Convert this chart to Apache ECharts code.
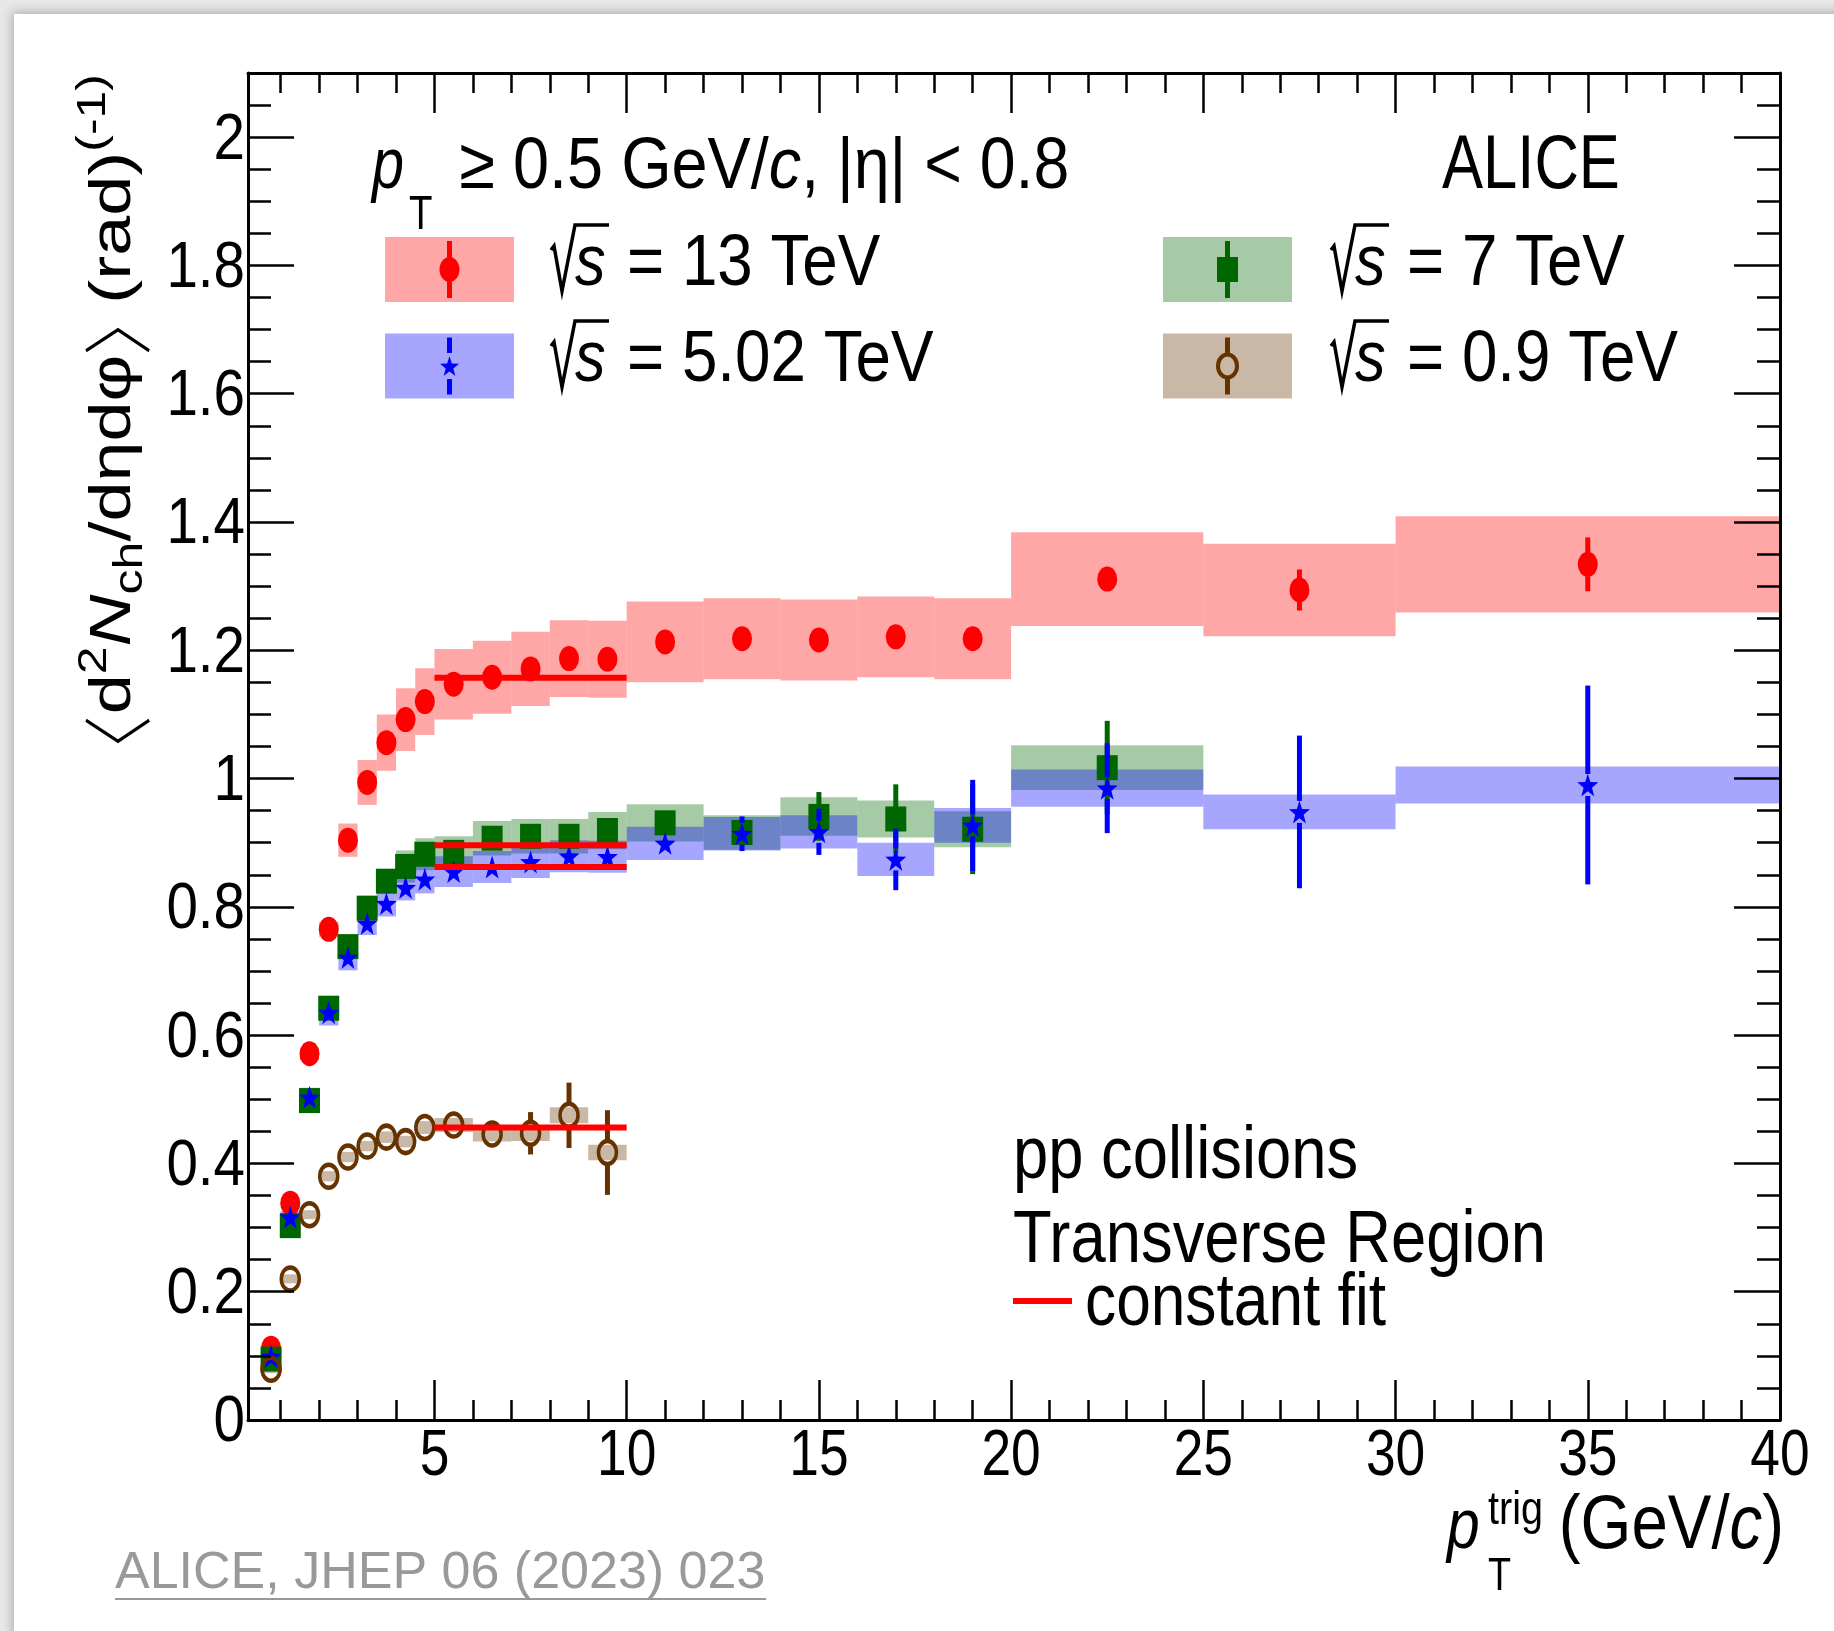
<!DOCTYPE html>
<html><head><meta charset="utf-8">
<script src="https://cdn.jsdelivr.net/npm/echarts@6/dist/echarts.min.js"></script>
<style>
html,body{margin:0;padding:0;width:1834px;height:1631px;overflow:hidden;background:#e8e8e8;}
#card{position:absolute;left:14px;top:14px;width:1860px;height:1660px;background:#fff;box-shadow:0 0 10px 2px rgba(0,0,0,0.25);}
#chart{position:absolute;left:0;top:0;width:1834px;height:1631px;}
</style></head><body>
<div id="card"></div><div id="chart"></div>
<script>
// ---------------- data ----------------
const binEdges = [0.5,1,1.5,2,2.5,3,3.5,4,4.5,5,6,7,8,9,10,12,14,16,18,20,25,30,40];

const val13  = [0.112,0.338,0.571,0.765,0.904,0.994,1.056,1.092,1.120,1.147,1.158,1.171,1.187,1.186,1.213,1.218,1.216,1.221,1.218,1.311,1.294,1.334];
const stat13 = [0.002,0.003,0.004,0.004,0.005,0.005,0.006,0.006,0.007,0.005,0.006,0.007,0.008,0.009,0.007,0.009,0.011,0.013,0.015,0.016,0.032,0.042];
const sys13  = [0.005,0.008,0.010,0.012,0.026,0.035,0.044,0.049,0.052,0.055,0.057,0.058,0.060,0.060,0.063,0.063,0.063,0.063,0.063,0.073,0.072,0.075];

const val7   = [0.095,0.303,0.498,0.642,0.738,0.798,0.840,0.863,0.882,0.885,0.907,0.910,0.910,0.919,0.931,0.916,0.941,0.937,0.921,1.017];
const stat7  = [0.002,0.003,0.003,0.004,0.004,0.005,0.005,0.005,0.006,0.005,0.006,0.007,0.008,0.009,0.012,0.020,0.038,0.054,0.070,0.073];
const sys7   = [0.004,0.006,0.008,0.010,0.012,0.014,0.015,0.025,0.025,0.025,0.027,0.027,0.027,0.029,0.029,0.027,0.030,0.029,0.028,0.035];

const val502  = [0.099,0.316,0.503,0.635,0.721,0.774,0.805,0.830,0.843,0.855,0.862,0.870,0.879,0.878,0.899,0.914,0.917,0.874,0.927,0.985,0.948,0.990];
const stat502 = [0.002,0.003,0.003,0.004,0.004,0.005,0.005,0.005,0.006,0.006,0.008,0.010,0.012,0.014,0.015,0.027,0.036,0.048,0.071,0.070,0.119,0.155];
const sys502  = [0.004,0.010,0.015,0.020,0.020,0.018,0.020,0.020,0.022,0.024,0.025,0.025,0.025,0.025,0.026,0.026,0.026,0.026,0.027,0.029,0.027,0.029];

const val09  = [0.079,0.220,0.320,0.380,0.410,0.427,0.441,0.434,0.456,0.460,0.446,0.447,0.475,0.417];
const stat09 = [0.002,0.003,0.004,0.005,0.006,0.006,0.007,0.008,0.009,0.012,0.018,0.033,0.051,0.066];
const sys09  = [0.006,0.007,0.007,0.008,0.008,0.008,0.009,0.009,0.010,0.011,0.012,0.012,0.0125,0.012];

const fitRange = [5, 10];
const fit13 = 1.157, fit7 = 0.896, fit502 = 0.862, fit09 = 0.456;

const xTickLabels = [5,10,15,20,25,30,35,40];
const yTickLabels = [0,0.2,0.4,0.6,0.8,1,1.2,1.4,1.6,1.8,2];
const legendLabels = ['13', '5.02', '7', '0.9'];

// ---------------- helpers ----------------
const xMinorTicks = []; for (let i = 1; i < 40; i++) if (i % 5) xMinorTicks.push(i);
const yMinorTicks = []; for (let i = 1; i < 42; i++) if (i % 4) yMinorTicks.push(+(i * 0.05).toFixed(2));
const centers = binEdges.slice(0, -1).map((e, i) => (e + binEdges[i + 1]) / 2);

const C = {
  red: '#ff0000', redB: 'rgba(255,0,0,0.35)',
  grn: '#006600', grnB: 'rgba(0,102,0,0.35)',
  blu: '#0000ff', bluB: 'rgba(0,0,255,0.35)',
  brn: '#663300', brnB: 'rgba(102,51,0,0.35)'
};
const FF = '"Liberation Sans", Arial, Helvetica, sans-serif';
const SQ = 0.8, MID = 0.3465;
const mctx = document.createElement('canvas').getContext('2d');
function fnt(s, it) { return (it ? 'italic ' : '') + s + 'px ' + FF; }
function tw(t, s, it) { mctx.font = fnt(s, it); return mctx.measureText(t).width; }
function textEl(x, base, t, s, o) {
  o = o || {};
  const al = o.align || 'left';
  return { type: 'text', x: x, y: base, scaleX: o.sx === undefined ? SQ : o.sx, silent: true, z: 100,
    style: { text: t, x: 0, y: -MID * s, fontSize: s, fontFamily: FF, fontStyle: o.it ? 'italic' : 'normal',
      fill: o.color || '#000', align: al, verticalAlign: 'middle', textAlign: al, textVerticalAlign: 'middle' } };
}
function chain(x0, base, pieces, sx) {
  let x = x0; const els = [];
  for (const p of pieces) {
    const s = p.sx !== undefined ? p.sx : (sx === undefined ? SQ : sx);
    x += (p.dx || 0);
    els.push(textEl(x, base + (p.dy || 0), p.t, p.s, { it: p.it, sx: s, color: p.color }));
    if (!p.noAdv) x += tw(p.t, p.s, p.it) * s;
  }
  return { els: els, end: x };
}
function starPts(cx, cy, w, h) {
  const pts = [];
  for (let k = 0; k < 10; k++) {
    const a = -Math.PI / 2 + k * Math.PI / 5, r = (k % 2) ? 0.4 : 1;
    pts.push([cx + Math.cos(a) * r * w / 2, cy + Math.sin(a) * r * h / 2 + h * 0.05]);
  }
  return pts;
}
const starPath = 'path://' + starPts(50, 50, 100, 100).map((p, i) => (i ? 'L' : 'M') + p[0].toFixed(2) + ' ' + p[1].toFixed(2)).join(' ') + ' Z';

function bandSeries(vals, sys, color, z) {
  return {
    type: 'custom', silent: true, z: z, animation: false,
    data: vals.map((v, i) => [binEdges[i], binEdges[i + 1], v, sys[i]]),
    encode: { x: [0, 1], y: [2] },
    renderItem: function (params, api) {
      const p1 = api.coord([api.value(0), api.value(2) + api.value(3)]);
      const p2 = api.coord([api.value(1), api.value(2) - api.value(3)]);
      return { type: 'rect', shape: { x: p1[0], y: p1[1], width: p2[0] - p1[0], height: p2[1] - p1[1] }, style: { fill: color } };
    }
  };
}
function errSeries(vals, stat, color, gap, z) {
  return {
    type: 'custom', silent: true, z: z, animation: false,
    data: vals.map((v, i) => [centers[i], v, stat[i]]),
    encode: { x: [0], y: [1] },
    renderItem: function (params, api) {
      const x = api.value(0), v = api.value(1), e = api.value(2);
      const c = api.coord([x, v]), t = api.coord([x, v + e]), b = api.coord([x, v - e]);
      const ch = [];
      if (c[1] - gap > t[1]) ch.push({ type: 'line', shape: { x1: c[0], y1: t[1], x2: c[0], y2: c[1] - gap }, style: { stroke: color, lineWidth: 5 } });
      if (b[1] > c[1] + gap) ch.push({ type: 'line', shape: { x1: c[0], y1: c[1] + gap, x2: c[0], y2: b[1] }, style: { stroke: color, lineWidth: 5 } });
      return { type: 'group', children: ch };
    }
  };
}
function markSeries(vals, symbol, size, style, z) {
  return { type: 'scatter', silent: true, z: z, animation: false, symbol: symbol, symbolSize: size,
    data: vals.map((v, i) => [centers[i], v]), itemStyle: Object.assign({ opacity: 1 }, style) };
}
function fitSeries(v) {
  return { type: 'line', silent: true, z: 15, animation: false, symbol: 'none',
    data: [[fitRange[0], v], [fitRange[1], v]], lineStyle: { color: C.red, width: 6, cap: 'butt' } };
}

// ---------------- axes ----------------
const tickStyle = { color: '#000', width: 2.5 };
function xAx(pos, major, withLine) {
  return { type: 'value', min: 0.15, max: 40, position: pos, z: 30, silent: true,
    splitLine: { show: false },
    axisLine: { show: withLine, onZero: false, lineStyle: { color: '#000', width: 3 } },
    axisTick: { show: true, inside: true, length: major ? 40 : 20, customValues: major ? xTickLabels : xMinorTicks, lineStyle: tickStyle },
    axisLabel: { show: false } };
}
function yAx(pos, major, withLine) {
  return { type: 'value', min: 0, max: 2.1, position: pos, z: 30, silent: true,
    splitLine: { show: false },
    axisLine: { show: withLine, onZero: false, lineStyle: { color: '#000', width: 3 } },
    axisTick: { show: true, inside: true, length: major ? 46 : 23, customValues: major ? yTickLabels : yMinorTicks, lineStyle: tickStyle },
    axisLabel: { show: false } };
}

// ---------------- texts ----------------
const G = [];
function add(list) { list.forEach(e => G.push(e)); }

// header
add(chain(372, 193, [
  { t: 'p', s: 72, it: true, sx: 0.8 },
  { t: 'T', s: 48, dy: 39, dx: 5, sx: 0.8 },
  { t: ' \u2265 0.5 GeV/', s: 72, dx: 9, sx: 0.9 },
  { t: 'c', s: 72, it: true, sx: 0.9 },
  { t: ', |\u03B7| < 0.8', s: 72, sx: 0.895 }
]).els);
G.push(textEl(1442, 193, 'ALICE', 76, { sx: 0.81 }));

// legend
function legendEntry(boxX, rowC, textX0, base, label, kind) {
  const mx = boxX + 64.5;
  const fills = { red: C.redB, blu: C.bluB, grn: C.grnB, brn: C.brnB };
  G.push({ type: 'rect', silent: true, z: 90, shape: { x: boxX, y: rowC - 32.5, width: 129, height: 65 }, style: { fill: fills[kind] } });
  const col = C[kind];
  const gap = (kind === 'blu' || kind === 'brn') ? 13 : 0;
  G.push({ type: 'line', silent: true, z: 91, shape: { x1: mx, y1: rowC - 28.5, x2: mx, y2: rowC - gap }, style: { stroke: col, lineWidth: 5 } });
  G.push({ type: 'line', silent: true, z: 91, shape: { x1: mx, y1: rowC + gap, x2: mx, y2: rowC + 28.5 }, style: { stroke: col, lineWidth: 5 } });
  if (kind === 'red') G.push({ type: 'ellipse', silent: true, z: 92, shape: { cx: mx, cy: rowC, rx: 10, ry: 12.5 }, style: { fill: col } });
  if (kind === 'grn') G.push({ type: 'rect', silent: true, z: 92, shape: { x: mx - 10.5, y: rowC - 12.5, width: 21, height: 25 }, style: { fill: col } });
  if (kind === 'blu') G.push({ type: 'polygon', silent: true, z: 92, shape: { points: starPts(mx, rowC, 20, 22) }, style: { fill: col } });
  if (kind === 'brn') G.push({ type: 'ellipse', silent: true, z: 92, shape: { cx: mx, cy: rowC, rx: 9.5, ry: 11.5 }, style: { fill: 'none', stroke: col, lineWidth: 4 } });
  const X0 = textX0, B = base;
  G.push({ type: 'polyline', silent: true, z: 100, shape: { points: [[X0 + 1, B - 40], [X0 + 4, B - 44], [X0 + 12, B + 1], [X0 + 25, B - 65], [X0 + 59, B - 65]] },
    style: { stroke: '#000', lineWidth: 3.5, fill: null, lineJoin: 'miter' } });
  G.push(textEl(X0 + 25, B, 's', 72, { it: true, sx: 0.85 }));
  G.push(textEl(X0 + 77, B, '= ' + label + ' TeV', 72, { sx: 0.885 }));
}
legendEntry(385, 269.5, 550, 290, legendLabels[0], 'red');
legendEntry(385, 366, 550, 386, legendLabels[1], 'blu');
legendEntry(1163, 269.5, 1330, 290, legendLabels[2], 'grn');
legendEntry(1163, 366, 1330, 386, legendLabels[3], 'brn');

// bottom-right notes
G.push(textEl(1013, 1183, 'pp collisions', 75, { sx: 0.845 }));
G.push(textEl(1013, 1267, 'Transverse Region', 75, { sx: 0.845 }));
G.push({ type: 'line', silent: true, z: 100, shape: { x1: 1013, y1: 1301, x2: 1072, y2: 1301 }, style: { stroke: C.red, lineWidth: 6 } });
G.push(textEl(1085, 1330, 'constant fit', 75, { sx: 0.83 }));

// x title
G.push(textEl(1447, 1553, 'p', 70, { it: true, sx: 0.84 }));
G.push(textEl(1488, 1593, 'T', 46, { sx: 0.82 }));
G.push(textEl(1488, 1527, 'trig', 46, { sx: 0.86 }));
(function () {
  const pcs = [{ t: '(GeV/', s: 76 }, { t: 'c', s: 76, it: true }, { t: ')', s: 76 }];
  let w = 0; pcs.forEach(p => w += tw(p.t, p.s, p.it) * 0.86);
  add(chain(1784 - w, 1553, pcs, 0.86).els);
})();

// y title (rotated group)
(function () {
  const S = 72, s2 = 50;
  const ch = [];
  let x = 0;
  ch.push({ type: 'polyline', shape: { points: [[x + 25, -60], [x + 4, -20], [x + 25, 19]] }, style: { stroke: '#000', lineWidth: 3.5, fill: null } });
  x += 31;
  const pieces = [
    { t: 'd', s: S }, { t: '2', s: s2, dy: -31 }, { t: 'N', s: S, it: true }, { t: 'ch', s: s2, dy: 14 },
    { t: '/d\u03B7d\u03C6', s: S }
  ];
  const r1 = chain(x, 0, pieces, 1);
  r1.els.forEach(e => ch.push(e));
  x = r1.end + 4;
  ch.push({ type: 'polyline', shape: { points: [[x, -60], [x + 21, -20], [x, 19]] }, style: { stroke: '#000', lineWidth: 3.5, fill: null } });
  x += 27;
  const r2 = chain(x, 0, [{ t: ' (rad)', s: S }, { t: '(-1)', s: s2, dy: -33 }], 1);
  r2.els.forEach(e => ch.push(e));
  const W = r2.end;
  G.push({ type: 'group', x: 134, y: 74 + W, rotation: Math.PI / 2, scaleY: SQ, silent: true, z: 100, children: ch });
})();

// citation
G.push(textEl(115, 1592, 'ALICE, JHEP 06 (2023) 023', 52, { color: '#999999', sx: 1.0 }));
G.push({ type: 'line', silent: true, z: 100, shape: { x1: 115, y1: 1599, x2: 766, y2: 1599 }, style: { stroke: '#999999', lineWidth: 2 } });

// ---------------- chart ----------------
const chart = echarts.init(document.getElementById('chart'), null, { renderer: 'canvas' });
const option = {
  animation: false,
  backgroundColor: 'transparent',
  grid: { left: 248, right: 54, top: 73, bottom: 211, containLabel: false, outerBoundsMode: 'none', show: false },
  xAxis: [xAx('bottom', true, true), xAx('bottom', false, false), xAx('top', true, true), xAx('top', false, false)],
  yAxis: [yAx('left', true, true), yAx('left', false, false), yAx('right', true, true), yAx('right', false, false)],
  series: [
    bandSeries(val13, sys13, C.redB, 1),
    bandSeries(val7, sys7, C.grnB, 2),
    bandSeries(val502, sys502, C.bluB, 3),
    bandSeries(val09, sys09, C.brnB, 4),
    errSeries(val13, stat13, C.red, 12, 5),
    markSeries(val13, 'circle', [20, 25], { color: C.red }, 6),
    errSeries(val7, stat7, C.grn, 12, 7),
    markSeries(val7, 'rect', [21, 25], { color: C.grn }, 8),
    errSeries(val502, stat502, C.blu, 11, 9),
    markSeries(val502, starPath, [21, 23], { color: C.blu }, 10),
    errSeries(val09, stat09, C.brn, 13, 11),
    markSeries(val09, 'circle', [18, 23], { color: 'rgba(0,0,0,0)', borderColor: C.brn, borderWidth: 4 }, 12),
    fitSeries(fit13), fitSeries(fit7), fitSeries(fit502), fitSeries(fit09)
  ],
  graphic: { elements: G }
};
chart.setOption(option);

// tick labels placed through the axes' own scales
const LS = 65;
xTickLabels.forEach(v => {
  const px = chart.convertToPixel({ xAxisIndex: 0 }, v);
  G.push(textEl(px, 1480, String(v), LS, { sx: 0.82, align: 'center' }));
});
yTickLabels.forEach(v => {
  const py = chart.convertToPixel({ yAxisIndex: 0 }, v);
  G.push(textEl(245, py + 26, String(v), LS, { sx: 0.87, align: 'right' }));
});
chart.setOption({ graphic: { elements: G } }, { replaceMerge: ['graphic'] });
</script>
</body></html>
